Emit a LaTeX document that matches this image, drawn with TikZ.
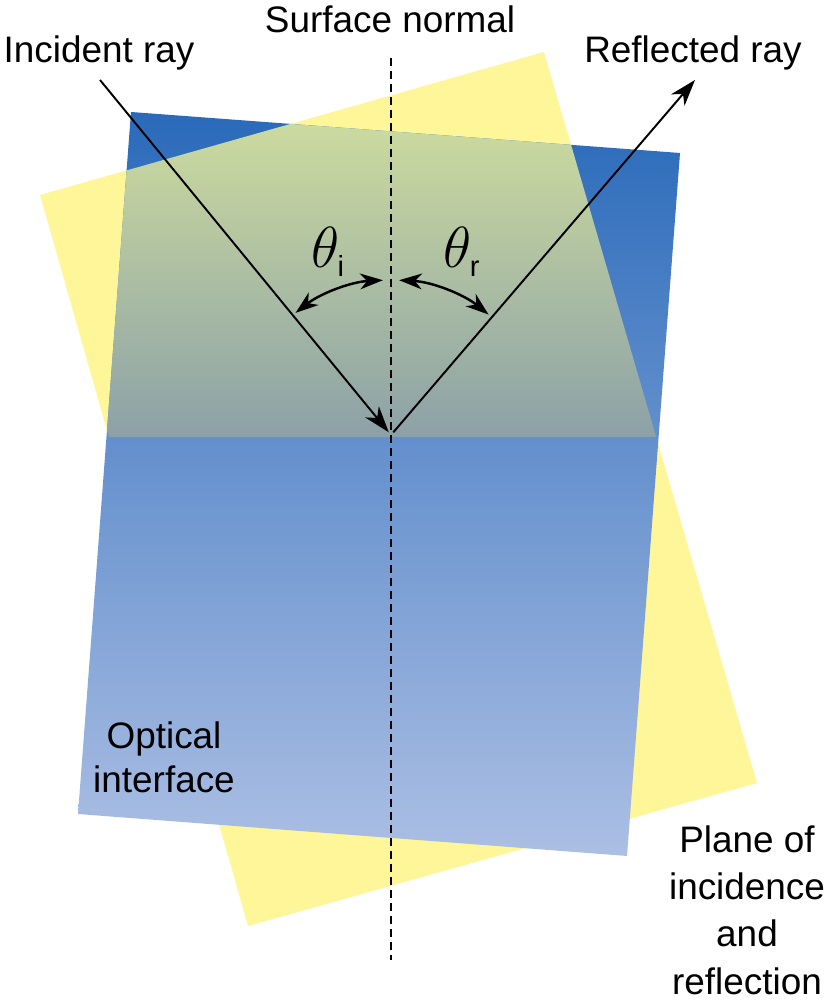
\RequirePackage{fix-cm}
\documentclass[tikz,border=0pt]{standalone}
\usepackage{fontspec}
\setmainfont{Liberation Sans}
\usepackage{tikz}
\usetikzlibrary{arrows.meta, positioning}
\usepackage{xcolor}

\definecolor{planeyellow}{RGB}{255,246,154}
\definecolor{bluetop}{RGB}{42,106,186}
\definecolor{bluebot}{RGB}{172,191,228}
\definecolor{mixtop}{RGB}{206,221,158}
\definecolor{mixbot}{RGB}{140,161,167}

\tikzset{
  ray/.style={line width=1.1pt, -{Stealth[length=15pt,width=10pt,inset=4.5pt]}},
  angarr/.style={line width=1.4pt, {Stealth[length=13pt,width=9pt,inset=4pt]}-{Stealth[length=13pt,width=9pt,inset=4pt]}},
  normalline/.style={line width=1.5pt, dash pattern=on 4.6pt off 2.8pt},
  lbl/.style={font=\fontsize{21}{25}\selectfont, inner sep=0pt},
  anglbl/.style={font=\fontsize{33}{38}\selectfont, inner sep=0pt}
}

\begin{document}
\begin{tikzpicture}[x=0.02cm,y=0.02cm]

\useasboundingbox (0,0) rectangle (837,1000);

% plane of incidence and the interface
\fill [planeyellow] (40,805) -- (544,948) -- (757,217) -- (248,74) -- cycle;
\shade [top color=bluetop, bottom color=bluebot] (131,888) -- (680,847) -- (627,144) -- (78,186) -- cycle;

\begin{scope}
\clip (40,805) -- (544,948) -- (757,217) -- (248,74) -- cycle;
\clip (131,888) -- (680,847) -- (627,144) -- (78,186) -- cycle;
\shade [top color=mixtop, bottom color=mixbot] (0,563) rectangle (837,890);
\end{scope}

% normal and rays
\coordinate (ntop) at (391,942);
\coordinate (nbot) at (391,40);
\coordinate (hit) at (391,565);
\coordinate (src) at (100,920);
\coordinate (dst) at (695,920);

\draw [normalline] (ntop) -- (nbot);
\draw [ray, shorten >=2pt] (src) -- (hit);
\draw [ray, shorten <=2pt] (hit) -- (dst);

\draw [angarr] ([shift={(93:155)}]hit) arc[start angle=93, end angle=128, radius=155];
\draw [angarr] ([shift={(87:155)}]hit) arc[start angle=87, end angle=51, radius=155];

% labels
\node [lbl] (normal) at (390,981) {Surface normal};
\node [lbl] (inclbl) at (99,947) {Incident ray};
\node [lbl] (reflbl) at (693,947) {Reflected ray};
\node [anglbl] (ti) at (328,748) {$\theta_{\scriptscriptstyle\mathrm{i}}$};
\node [anglbl] (tr) at (462,748) {$\theta_{\scriptscriptstyle\mathrm{r}}$};
\node [lbl, align=center] (iface) at (164,243) {Optical\\interface};
\node [lbl, align=center, font=\fontsize{21}{27}\selectfont] (poi) at (747,90) {Plane of\\incidence\\and\\reflection};

\end{tikzpicture}
\end{document}
